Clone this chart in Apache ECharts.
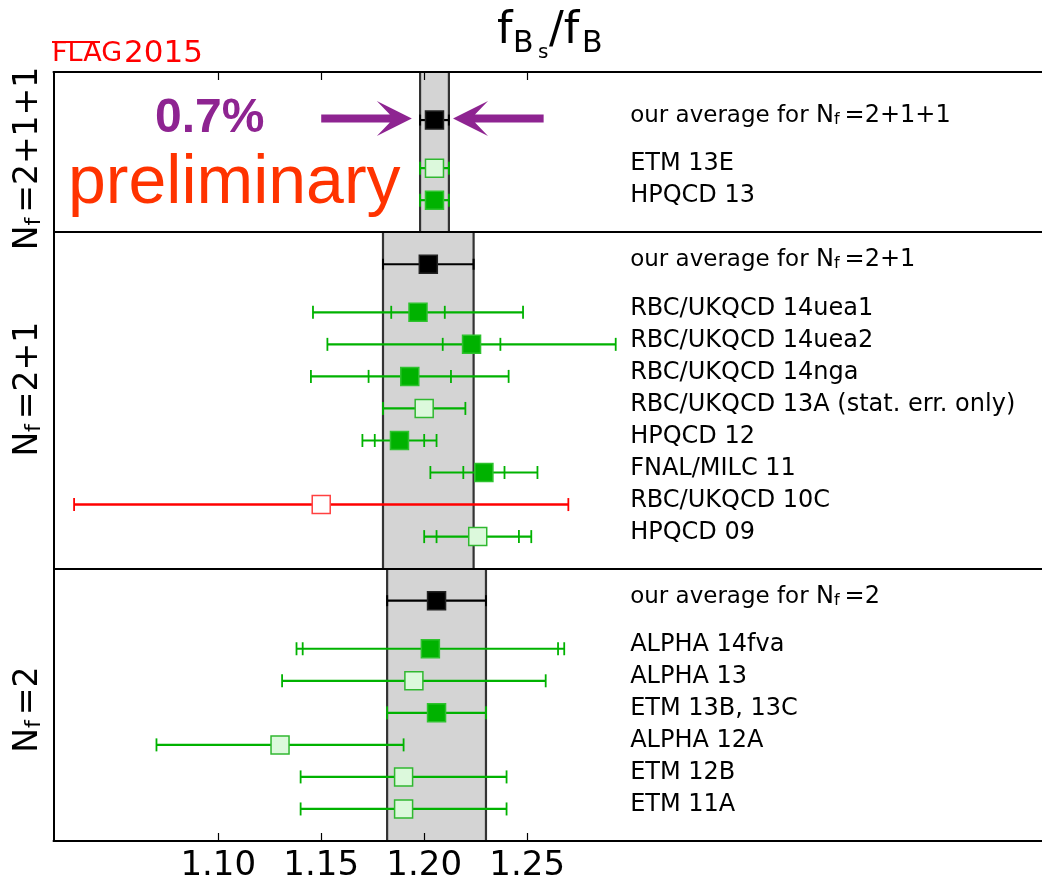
<!DOCTYPE html>
<html><head><meta charset="utf-8">
<script src="https://cdn.jsdelivr.net/npm/echarts@6/dist/echarts.min.js"></script>
<style>html,body{margin:0;padding:0;background:#fff}#c{width:1042px;height:883px}</style>
</head><body><div id="c"></div>
<script>
// ---------- data ----------
const labels = [
  'our average for {m|N}{s|f}{m|=2+1+1}',
  'ETM 13E',
  'HPQCD 13',
  'our average for {m|N}{s|f}{m|=2+1}',
  'RBC/UKQCD 14uea1',
  'RBC/UKQCD 14uea2',
  'RBC/UKQCD 14nga',
  'RBC/UKQCD 13A (stat. err. only)',
  'HPQCD 12',
  'FNAL/MILC 11',
  'RBC/UKQCD 10C',
  'HPQCD 09',
  'our average for {m|N}{s|f}{m|=2}',
  'ALPHA 14fva',
  'ALPHA 13',
  'ETM 13B, 13C',
  'ALPHA 12A',
  'ETM 12B',
  'ETM 11A'
];
const yPos    = [22.5, 21, 20, 18, 16.5, 15.5, 14.5, 13.5, 12.5, 11.5, 10.5, 9.5, 7.5, 6, 5, 4, 3, 2, 1];
const centers = [1.205, 1.205, 1.205, 1.202, 1.197, 1.223, 1.193, 1.200, 1.188, 1.229, 1.150, 1.226, 1.206, 1.203, 1.195, 1.206, 1.130, 1.190, 1.190];
const errLo   = [1.198, 1.198, 1.198, 1.180, 1.146, 1.153, 1.145, 1.180, 1.170, 1.203, 1.030, 1.200, 1.182, 1.138, 1.131, 1.182, 1.070, 1.140, 1.140];
const errHi   = [1.212, 1.212, 1.212, 1.224, 1.248, 1.293, 1.241, 1.220, 1.206, 1.255, 1.270, 1.252, 1.230, 1.268, 1.259, 1.230, 1.190, 1.240, 1.240];
const statLo  = [null, null, null, null, 1.184, 1.209, 1.173, null, 1.176, 1.219, null, 1.206, null, 1.141, null, null, null, null, null];
const statHi  = [null, null, null, null, 1.210, 1.237, 1.213, null, 1.200, 1.239, null, 1.246, null, 1.265, null, null, null, null, null];
const kinds   = ['avg','open','filled','avg','filled','filled','filled','open','filled','filled','red','open','avg','filled','open','filled','open','open','open'];

const panelLabels = ['{m|N}{s|f}{m|=2+1+1}', '{m|N}{s|f}{m|=2+1}', '{m|N}{s|f}{m|=2}'];
const panelBottom = [19, 8.5, 0];
const panelTop    = [24, 19, 8.5];
const panelAvg    = [0, 3, 12];
const panelLabelY = [21.3, 14.1, 4.1];
const dividers    = [8.5, 19];

const xTicks = [1.10, 1.15, 1.20, 1.25];
const xMin = 1.02, xMax = 1.50;
const labelX = 1.30;

const arrowTail = [1.150, 1.258];
const arrowTip  = [1.194, 1.214];
const arrowY    = [22.55, 22.55];

// ---------- chart ----------
const chart = echarts.init(document.getElementById('c'), null, {renderer: 'canvas'});
const FONT = 'DejaVu Sans';

const rowData = centers.map((c, i) => [c, errLo[i], errHi[i], yPos[i]]);
const bandData = panelAvg.map((ai, p) => [errLo[ai], errHi[ai], panelBottom[p], panelTop[p]]);
const arrowData = arrowTail.map((t, i) => [t, arrowTip[i], arrowY[i]]);

function renderBand(params, api) {
  const lo = api.value(0), hi = api.value(1), yb = api.value(2), yt = api.value(3);
  const a = api.coord([lo, yt]), b = api.coord([hi, yb]);
  return {type: 'group', children: [
    {type: 'rect', shape: {x: a[0], y: a[1], width: b[0] - a[0], height: b[1] - a[1]}, style: {fill: '#d4d4d4'}},
    {type: 'line', shape: {x1: a[0], y1: a[1], x2: a[0], y2: b[1]}, style: {stroke: '#333333', lineWidth: 2.2}},
    {type: 'line', shape: {x1: b[0], y1: a[1], x2: b[0], y2: b[1]}, style: {stroke: '#333333', lineWidth: 2.2}}
  ]};
}

function renderRow(params, api) {
  const i = params.dataIndex;
  const c = api.value(0), lo = api.value(1), hi = api.value(2), y = api.value(3);
  const kind = kinds[i];
  const pc = api.coord([c, y]), pl = api.coord([lo, y]), ph = api.coord([hi, y]);
  const col = kind === 'avg' ? '#000000' : (kind === 'red' ? '#ff0000' : '#00b200');
  const lw = kind === 'red' ? 2.5 : 2.2;
  const ch = [];
  ch.push({type: 'line', shape: {x1: pl[0], y1: pl[1], x2: ph[0], y2: ph[1]}, style: {stroke: col, lineWidth: lw}});
  const capX = [pl[0], ph[0]];
  if (statLo[i] != null) {
    capX.push(api.coord([statLo[i], y])[0], api.coord([statHi[i], y])[0]);
  }
  const capH = kind === 'avg' ? 5.5 : 6.5;
  capX.forEach(x => ch.push({type: 'line', shape: {x1: x, y1: pc[1] - capH, x2: x, y2: pc[1] + capH}, style: {stroke: col, lineWidth: kind === 'avg' ? 2 : 1.8}}));
  const s = 18;
  let fill, stroke;
  if (kind === 'avg') { fill = '#000'; stroke = '#222'; }
  else if (kind === 'filled') { fill = '#00b200'; stroke = '#2ec22e'; }
  else if (kind === 'open') { fill = '#dcf9dc'; stroke = '#30b830'; }
  else { fill = '#ffffff'; stroke = '#ff4040'; }
  ch.push({type: 'rect', shape: {x: pc[0] - s / 2, y: pc[1] - s / 2, width: s, height: s}, style: {fill: fill, stroke: stroke, lineWidth: 1.5}});
  const pt = api.coord([labelX, y]);
  const isAvg = kind === 'avg';
  ch.push({type: 'text', x: pt[0], y: pt[1] - 4, style: {
    text: labels[i], fill: '#000', fontFamily: FONT, fontSize: isAvg ? 23 : 24,
    align: 'left', verticalAlign: 'middle',
    rich: {
      m: {fontSize: 24, fontFamily: FONT, fill: '#000'},
      s: {fontSize: 16, fontFamily: FONT, fill: '#000', verticalAlign: 'bottom', padding: [0, 5, 0, 0]}
    }
  }});
  return {type: 'group', children: ch};
}

function renderArrow(params, api) {
  const t = api.coord([api.value(0), api.value(2)]);
  const h = api.coord([api.value(1), api.value(2)]);
  const dir = h[0] > t[0] ? 1 : -1;
  const y = h[1];
  const hl = 35, hw = 17.5, sw = 4, notch = 22;
  const pts = [
    [t[0], y - sw], [h[0] - dir * notch, y - sw], [h[0] - dir * hl, y - hw], [h[0], y],
    [h[0] - dir * hl, y + hw], [h[0] - dir * notch, y + sw], [t[0], y + sw]
  ];
  return {type: 'polygon', shape: {points: pts}, style: {fill: '#8e2491'}};
}

const xAxisCommon = {
  type: 'value', min: xMin, max: xMax, z: 5,
  splitLine: {show: false},
  axisLine: {show: true, onZero: false, lineStyle: {color: '#000', width: 2}},
  axisTick: {show: true, inside: true, length: 8, customValues: xTicks, lineStyle: {color: '#000', width: 1.2}}
};

const option = {
  animation: false,
  backgroundColor: '#fff',
  grid: {left: 53.5, top: 72, width: 996.5, height: 770.7},
  xAxis: [
    Object.assign({}, xAxisCommon, {position: 'bottom',
      axisLabel: {show: true, customValues: xTicks, formatter: v => v.toFixed(2), fontSize: 34, fontFamily: FONT, color: '#000', margin: 8}}),
    Object.assign({}, xAxisCommon, {position: 'top', axisLabel: {show: false}})
  ],
  yAxis: {type: 'value', min: 0, max: 24, z: 5,
    axisLine: {show: true, onZero: false, lineStyle: {color: '#000', width: 2}},
    axisTick: {show: false}, axisLabel: {show: false}, splitLine: {show: false}},
  series: [
    {type: 'custom', name: 'bands', renderItem: renderBand, data: bandData, z: 1, silent: true,
      encode: {x: [0, 1], y: [2, 3]},
      markLine: {silent: true, symbol: 'none', label: {show: false}, z: 4,
        lineStyle: {color: '#000', width: 2, type: 'solid'},
        data: dividers.map(d => ({yAxis: d}))}},
    {type: 'custom', name: 'rows', renderItem: renderRow, data: rowData, z: 3, silent: true,
      encode: {x: [0, 1, 2], y: 3}},
    {type: 'custom', name: 'arrows', renderItem: renderArrow, data: arrowData, z: 3, silent: true,
      encode: {x: [0, 1], y: 2}}
  ]
};
chart.setOption(option);

// ---------- text annotations ----------
const richM = {
  m: {fontSize: 33, fontFamily: FONT, fill: '#000'},
  s: {fontSize: 22, fontFamily: FONT, fill: '#000', verticalAlign: 'bottom', padding: [0, 5, 0, 0]}
};
const gfx = [];
panelLabels.forEach((t, p) => {
  const py = chart.convertToPixel({yAxisIndex: 0}, panelLabelY[p]);
  gfx.push({type: 'text', x: 28.6, y: py, rotation: Math.PI / 2,
    style: {text: t, align: 'center', verticalAlign: 'middle', rich: richM, fontFamily: FONT, fontSize: 33, fill: '#000'}});
});
// title f_{B_s}/f_B
gfx.push({type: 'text', x: 497, y: 31.8, style: {text: 'f', fontFamily: FONT, fontSize: 44, fill: '#000', verticalAlign: 'middle'}});
gfx.push({type: 'text', x: 513, y: 44.6, style: {text: 'B', fontFamily: FONT, fontSize: 30, fill: '#000', verticalAlign: 'middle'}});
gfx.push({type: 'text', x: 538, y: 53, style: {text: 's', fontFamily: FONT, fontSize: 20, fill: '#000', verticalAlign: 'middle'}});
gfx.push({type: 'text', x: 549, y: 31.8, style: {text: '/f', fontFamily: FONT, fontSize: 44, fill: '#000', verticalAlign: 'middle'}});
gfx.push({type: 'text', x: 582, y: 44.6, style: {text: 'B', fontFamily: FONT, fontSize: 30, fill: '#000', verticalAlign: 'middle'}});
// FLAG2015
gfx.push({type: 'text', x: 52, y: 54.3, style: {text: 'FLAG', fontFamily: FONT, fontSize: 27, fill: '#ff0000', verticalAlign: 'middle'}});
gfx.push({type: 'text', x: 124, y: 54.3, style: {text: '2015', fontFamily: FONT, fontSize: 31, fill: '#ff0000', verticalAlign: 'middle'}});
gfx.push({type: 'line', shape: {x1: 52, y1: 42, x2: 100, y2: 42}, style: {stroke: '#ff0000', lineWidth: 2}});
// 0.7% and preliminary
gfx.push({type: 'text', x: 155, y: 118.4, style: {text: '0.7%', fontFamily: 'Liberation Sans', fontWeight: 'bold', fontSize: 48, fill: '#8e2491', verticalAlign: 'middle'}});
gfx.push({type: 'text', x: 68, y: 184.4, style: {text: 'preliminary', fontFamily: 'Liberation Sans', fontSize: 68, fill: '#ff3300', verticalAlign: 'middle'}});
chart.setOption({graphic: {elements: gfx}});
</script>
</body></html>
